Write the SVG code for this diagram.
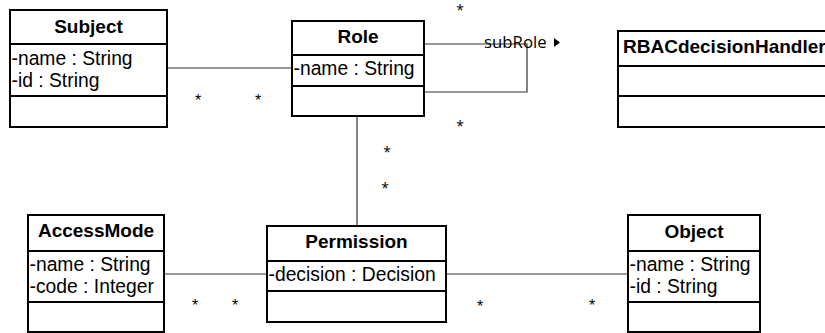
<svg xmlns="http://www.w3.org/2000/svg" width="825" height="333" viewBox="0 0 825 333">
<style>
.box{fill:#fff;stroke:#000;stroke-width:2}
.sep{stroke:#000;stroke-width:2}
.hd{font-family:"Liberation Sans",Arial,sans-serif;font-weight:bold;font-size:19px;text-anchor:middle;fill:#000}
.at{font-family:"Liberation Sans",Arial,sans-serif;font-size:19.3px;fill:#000}
.con{fill:none;stroke:#333;stroke-width:1.2}
.st{font-family:"Liberation Sans",Arial,sans-serif;font-size:16px;text-anchor:middle;fill:#000}
.st2{font-family:"Open Sans",sans-serif;font-size:14px;text-anchor:middle;fill:#000}
.lbl{font-family:"Open Sans",sans-serif;font-size:16.8px;fill:#000}
</style>
<g id="connectors">
<path class="con" d="M167 68 H292"/>
<path class="con" d="M424 44 H527 V92 H424"/>
<path class="con" d="M357 116 V226"/>
<path class="con" d="M164 274 H267"/>
<path class="con" d="M446 274 H628"/>
<text class="lbl" x="484" y="48">subRole</text>
<polygon points="554,38 560,42.5 554,47" fill="#000"/>
<text class="st" x="198" y="106">*</text>
<text class="st" x="258" y="106">*</text>
<text class="st2" x="460" y="15">*</text>
<text class="st2" x="460" y="131">*</text>
<text class="st2" x="387" y="157">*</text>
<text class="st2" x="385" y="193">*</text>
<text class="st" x="195" y="311">*</text>
<text class="st" x="235" y="311">*</text>
<text class="st" x="480" y="312">*</text>
<text class="st" x="592" y="311">*</text>
</g>
<g id="Subject">
<rect class="box" x="10" y="10" width="157" height="117"/>
<line class="sep" x1="10" y1="44" x2="167" y2="44"/>
<line class="sep" x1="10" y1="96" x2="167" y2="96"/>
<text class="hd" x="88.5" y="33">Subject</text>
<text class="at" x="11.5" y="65">-name : String</text>
<text class="at" x="11.5" y="87">-id : String</text>
</g>
<g id="Role">
<rect class="box" x="292" y="21" width="132" height="95"/>
<line class="sep" x1="292" y1="55" x2="424" y2="55"/>
<line class="sep" x1="292" y1="86" x2="424" y2="86"/>
<text class="hd" x="358" y="43">Role</text>
<text class="at" x="293.5" y="75">-name : String</text>
</g>
<g id="RBACdecisionHandler">
<rect class="box" x="618" y="31" width="230" height="96"/>
<line class="sep" x1="618" y1="66" x2="848" y2="66"/>
<line class="sep" x1="618" y1="96" x2="848" y2="96"/>
<text class="hd" x="623" y="53" style="text-anchor:start">RBACdecisionHandler</text>
</g>
<g id="AccessMode">
<rect class="box" x="28" y="215" width="136" height="117"/>
<line class="sep" x1="28" y1="251" x2="164" y2="251"/>
<line class="sep" x1="28" y1="302" x2="164" y2="302"/>
<text class="hd" x="96" y="237">AccessMode</text>
<text class="at" x="29.5" y="271">-name : String</text>
<text class="at" x="29.5" y="293">-code : Integer</text>
</g>
<g id="Permission">
<rect class="box" x="267" y="226" width="179" height="96"/>
<line class="sep" x1="267" y1="261" x2="446" y2="261"/>
<line class="sep" x1="267" y1="291" x2="446" y2="291"/>
<text class="hd" x="356.5" y="248">Permission</text>
<text class="at" x="268.5" y="281">-decision : Decision</text>
</g>
<g id="Object">
<rect class="box" x="628" y="215" width="132" height="117"/>
<line class="sep" x1="628" y1="251" x2="760" y2="251"/>
<line class="sep" x1="628" y1="302" x2="760" y2="302"/>
<text class="hd" x="694" y="238">Object</text>
<text class="at" x="629.5" y="271">-name : String</text>
<text class="at" x="629.5" y="293">-id : String</text>
</g>
</svg>
